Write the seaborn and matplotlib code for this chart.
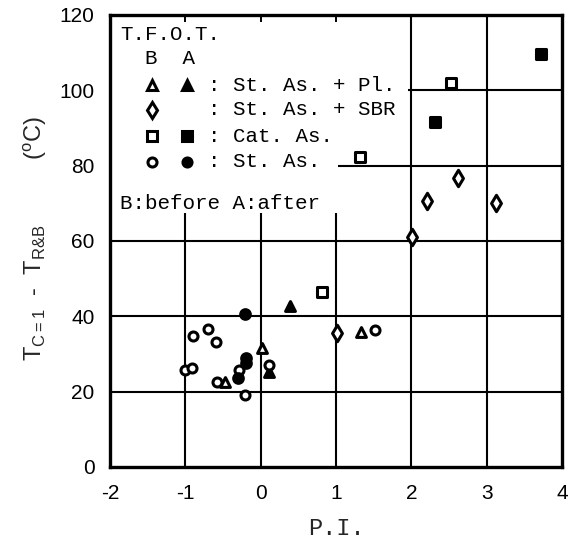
import matplotlib
matplotlib.use("Agg")
import matplotlib.pyplot as plt
from matplotlib.mathtext import MathTextParser
import seaborn as sns
import pandas as pd

# ---- data ----
pl_before_x = [-0.47, 0.02, 1.33]
pl_before_y = [22.6, 31.6, 35.8]
pl_after_x = [0.11, 0.39]
pl_after_y = [25.2, 42.7]
sbr_before_x = [1.01, 2.01, 2.21, 2.62, 3.13]
sbr_before_y = [35.6, 61.1, 70.6, 76.7, 70.1]
cat_before_x = [0.81, 1.32, 2.52]
cat_before_y = [46.5, 82.3, 102.0]
cat_after_x = [2.32, 3.72]
cat_after_y = [91.6, 109.6]
st_before_x = [-1.00, -0.91, -0.90, -0.70, -0.59, -0.58, -0.29, -0.21, 0.11, 1.52]
st_before_y = [25.8, 26.3, 34.8, 36.6, 33.2, 22.6, 25.8, 19.1, 27.0, 36.4]
st_after_x = [-0.21, -0.19, -0.20, -0.30]
st_after_y = [40.6, 29.0, 27.6, 23.6]

x_ticks = [-2, -1, 0, 1, 2, 3, 4]
y_ticks = [0, 20, 40, 60, 80, 100, 120]

sns.set_style("white")
plt.rcParams['font.family'] = ['Liberation Sans', 'DejaVu Sans']
plt.rcParams['mathtext.default'] = 'regular'
mono = 'Liberation Mono'

fig = plt.figure(figsize=(5.77, 5.48), dpi=100)
ax = fig.add_axes([110/577, 81/548, 452/577, 452/548])

# grid segments (partly hidden behind the key text as in the original)
gkw = dict(color='black', lw=1.5, zorder=1)
for yv in [20, 40, 60]:
    ax.hlines(yv, -2, 4, **gkw)
ax.hlines(80, 1.03, 4, **gkw)
ax.hlines(100, 1.96, 4, **gkw)
for xv in [-1, 0, 1]:
    ax.vlines(xv, 0, 67.5, **gkw)
for xv in [2, 3]:
    ax.vlines(xv, 0, 120, **gkw)

lw = 2.2
groups = [
    (pl_before_x, pl_before_y, '^', 'white', 50),
    (pl_after_x, pl_after_y, '^', 'black', 50),
    (sbr_before_x, sbr_before_y, 'd', 'white', 70),
    (cat_before_x, cat_before_y, 's', 'white', 42),
    (cat_after_x, cat_after_y, 's', 'black', 48),
    (st_before_x, st_before_y, 'o', 'white', 42),
    (st_after_x, st_after_y, 'o', 'black', 48),
]
for gx, gy, mk, fc, sz in groups:
    df = pd.DataFrame({'x': gx, 'y': gy})
    sns.scatterplot(data=df, x='x', y='y', marker=mk, s=sz,
                    facecolor=fc, edgecolor='black', linewidth=lw, ax=ax, zorder=3)

ax.set_xlim(-2, 4)
ax.set_ylim(0, 120)
ax.set_xticks(x_ticks)
ax.set_yticks(y_ticks)
ax.set_xticklabels(['-2', '-1', '0', '1', '2', '3', '4'])
ax.tick_params(direction='in', length=5, width=1.4, top=True, right=True,
               labelsize=15, colors='black')
ax.tick_params(axis='x', pad=12)
ax.tick_params(axis='y', pad=11)
for sp in ax.spines.values():
    sp.set_linewidth(2.4)
    sp.set_color('black')

ax.set_xlabel('P.I.', fontfamily=mono, fontsize=17)
ax.xaxis.set_label_coords(0.5, -0.11)

sub_rb = 'R&B'
try:
    MathTextParser('agg').parse(r'$_{R&B}$')
except Exception:
    sub_rb = r'R\mathrm{\&}B'
ylab = r'T$_{C=1}$  -  T$_{' + sub_rb + r'}$          ($^{o}$C)'
ax.set_ylabel(ylab, fontsize=17)
ax.yaxis.set_label_coords(-0.135, 0.505)

# key (drawn in axes coordinates)
tkw = dict(transform=ax.transAxes, fontfamily=mono, fontsize=15, va='center',
           ha='left', color='black', zorder=5)
ax.text(0.022, 0.956, 'T.F.O.T.', **tkw)
ax.text(0.022, 0.903, '  B  A', **tkw)
rows_y = [0.845, 0.790, 0.732, 0.675]
row_text = [': St. As. + Pl.', ': St. As. + SBR', ': Cat. As.', ': St. As.']
row_mk = ['^', 'd', 's', 'o']
row_after = [True, False, True, True]
for yy, txt, mk, aft in zip(rows_y, row_text, row_mk, row_after):
    ax.text(0.216, yy, txt, **tkw)
    msz = 6.5 if mk != 'd' else 8
    ax.plot([0.093], [yy], marker=mk, ms=msz, mfc='white', mec='black', mew=2.2,
            transform=ax.transAxes, clip_on=False, zorder=5)
    if aft:
        ax.plot([0.170], [yy], marker=mk, ms=msz, mfc='black', mec='black', mew=2.2,
                transform=ax.transAxes, clip_on=False, zorder=5)
ax.text(0.022, 0.584, 'B:before A:after', **tkw)

fig.savefig('out.png', dpi=100)
